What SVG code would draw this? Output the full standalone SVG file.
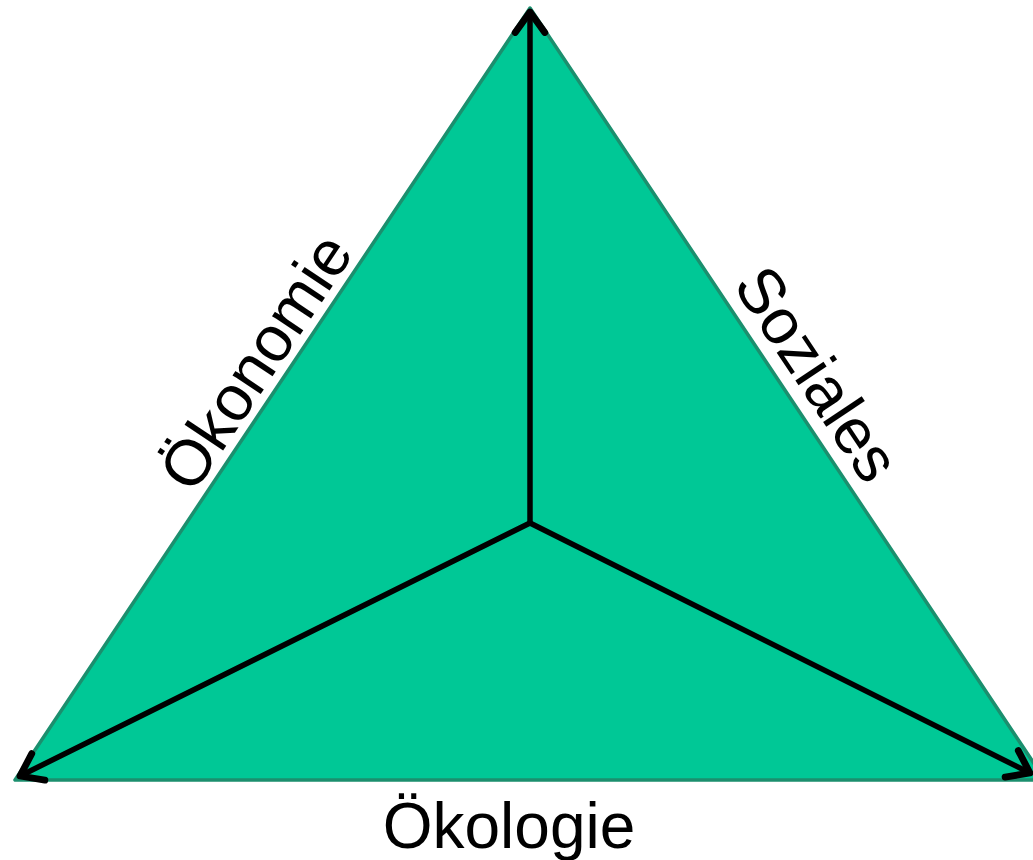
<svg xmlns="http://www.w3.org/2000/svg" width="1033" height="860" viewBox="0 0 1033 860">
<defs>
<style>
.lbl{font-family:"Liberation Sans",Arial,sans-serif;font-size:64px;fill:#000}
.ax{stroke:#000;stroke-width:5.5;fill:none;stroke-linecap:round}
</style>
<marker id="arr" markerUnits="userSpaceOnUse" markerWidth="50" markerHeight="50" viewBox="-28 -22 34 44" refX="0" refY="0" orient="auto">
<path d="M-18,-13 L0,0 L-18,13" fill="none" stroke="#000" stroke-width="6" stroke-linecap="round" stroke-linejoin="round"/>
</marker>
</defs>
<rect width="1033" height="860" fill="#fff"/>
<g id="triangle">
<polygon points="530,8 15,780 1045,780" fill="#00C896" stroke="#1B8F6E" stroke-width="3.5" stroke-linejoin="round"/>
</g>
<g id="connectors">
<line class="ax" x1="530" y1="523" x2="530" y2="12" marker-end="url(#arr)"/>
<line class="ax" x1="530" y1="523" x2="20" y2="776" marker-end="url(#arr)"/>
<line class="ax" x1="530" y1="523" x2="1030" y2="773" marker-end="url(#arr)"/>
</g>
<g id="label-oekonomie">
<text class="lbl" text-anchor="middle" transform="translate(274,374) rotate(-56.3)">Ökonomie</text>
</g>
<g id="label-soziales">
<text class="lbl" text-anchor="middle" transform="translate(799,386) rotate(56.3)">Soziales</text>
</g>
<g id="label-oekologie">
<text class="lbl" text-anchor="middle" x="509" y="848">Ökologie</text>
</g>
</svg>
